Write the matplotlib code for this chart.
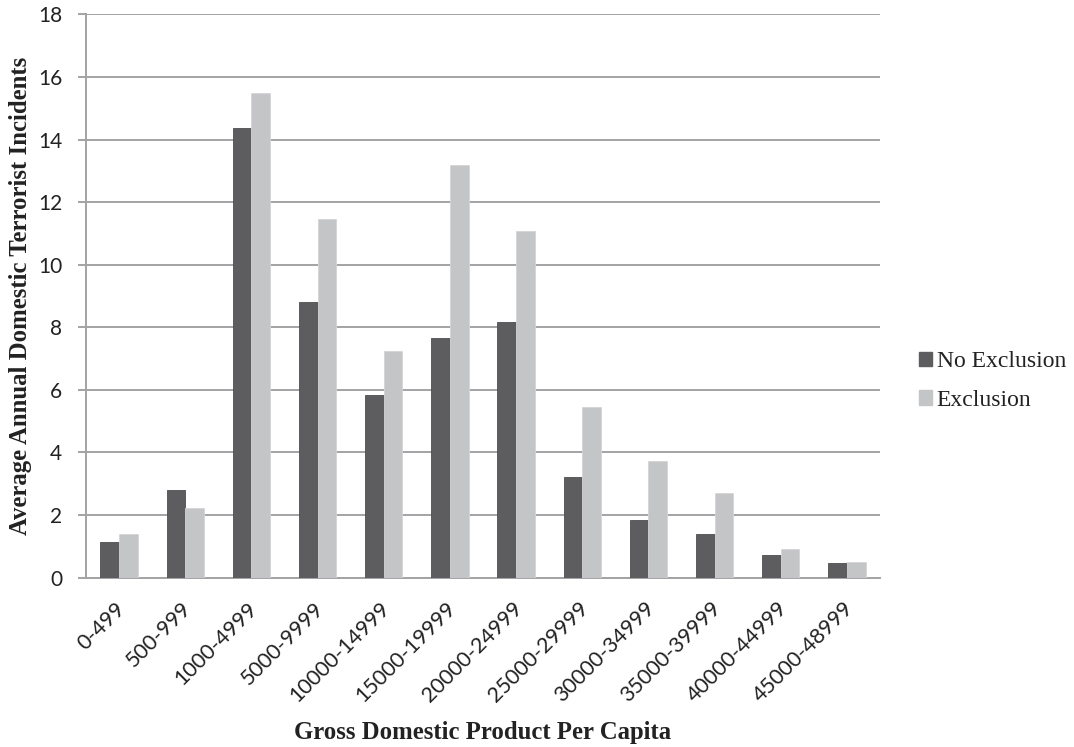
import numpy as np
import matplotlib
matplotlib.use("Agg")
import matplotlib.pyplot as plt
import matplotlib.transforms as mtransforms
from matplotlib.patches import Patch

categories = ["0-499", "500-999", "1000-4999", "5000-9999", "10000-14999",
              "15000-19999", "20000-24999", "25000-29999", "30000-34999",
              "35000-39999", "40000-44999", "45000-48999"]
no_exclusion = [1.14, 2.80, 14.36, 8.81, 5.82, 7.66, 8.17, 3.20, 1.85, 1.39, 0.71, 0.47]
exclusion = [1.39, 2.23, 15.48, 11.46, 7.24, 13.19, 11.08, 5.45, 3.71, 2.69, 0.92, 0.50]
y_ticks = [0, 2, 4, 6, 8, 10, 12, 14, 16, 18]

dark = "#5d5d5f"
light = "#c4c5c7"
grid = "#a3a3a5"
text_color = "#222222"

fig = plt.figure(figsize=(10.74, 7.47), dpi=100)
ax = fig.add_axes([86 / 1074, 1 - 577.5 / 747, (880 - 86) / 1074, (577.5 - 14.5) / 747])

x = np.arange(len(categories))
w = 0.283
ax.bar(x - w / 2, no_exclusion, width=w, color=dark, edgecolor="#4e4e50", linewidth=0.6,
       label="No Exclusion", zorder=3)
ax.bar(x + w / 2, exclusion, width=w, color=light, edgecolor="#d4d5d7", linewidth=0.6,
       label="Exclusion", zorder=3)

ax.set_xlim(-0.5, len(categories) - 0.5)
ax.set_ylim(0, 18)
ax.set_yticks(y_ticks)
ax.yaxis.grid(True, color=grid, linewidth=1.4, zorder=0)
ax.set_axisbelow(True)

for side in ("top", "right"):
    ax.spines[side].set_visible(False)
for side in ("left", "bottom"):
    ax.spines[side].set_color(grid)
    ax.spines[side].set_linewidth(1.4)

tick_font = "Lato"
ax.tick_params(axis="y", length=6, width=1.4, color=grid, labelsize=15, pad=11)
ax.tick_params(axis="x", length=0, pad=15)
for lab in ax.get_yticklabels():
    lab.set_fontfamily(tick_font)
    lab.set_color(text_color)

ax.set_xticks(x)
ax.set_xticklabels(categories, rotation=45, ha="right", va="top",
                   rotation_mode="anchor", fontsize=15.5, fontfamily=tick_font,
                   color=text_color)
# nudge the slanted category labels a few pixels to the left
shift = mtransforms.ScaledTranslation(-4 / 100, 0, fig.dpi_scale_trans)
for lab in ax.get_xticklabels():
    lab.set_transform(lab.get_transform() + shift)

ax.set_xlabel("Gross Domestic Product Per Capita", fontsize=17.8, fontweight="bold",
              fontfamily="Liberation Serif", color=text_color, va="center")
ax.xaxis.set_label_coords(0.5, -0.276)
ax.set_ylabel("Average Annual Domestic Terrorist Incidents", fontsize=17.8,
              fontweight="bold", fontfamily="Liberation Serif", color=text_color,
              va="center")
ax.yaxis.set_label_coords(-0.082, 0.5)

handles = [Patch(facecolor=dark, edgecolor=dark), Patch(facecolor=light, edgecolor=light)]
fig.legend(handles, ["No Exclusion", "Exclusion"], loc="center left",
           bbox_to_anchor=(919 / 1074, 1 - 381 / 747), frameon=False,
           borderpad=0, borderaxespad=0,
           prop={"family": "Liberation Serif", "size": 17},
           handlelength=0.55, handleheight=0.55, handletextpad=0.2, labelspacing=0.75,
           labelcolor=text_color)

fig.savefig("out.png", dpi=100, facecolor="white")
